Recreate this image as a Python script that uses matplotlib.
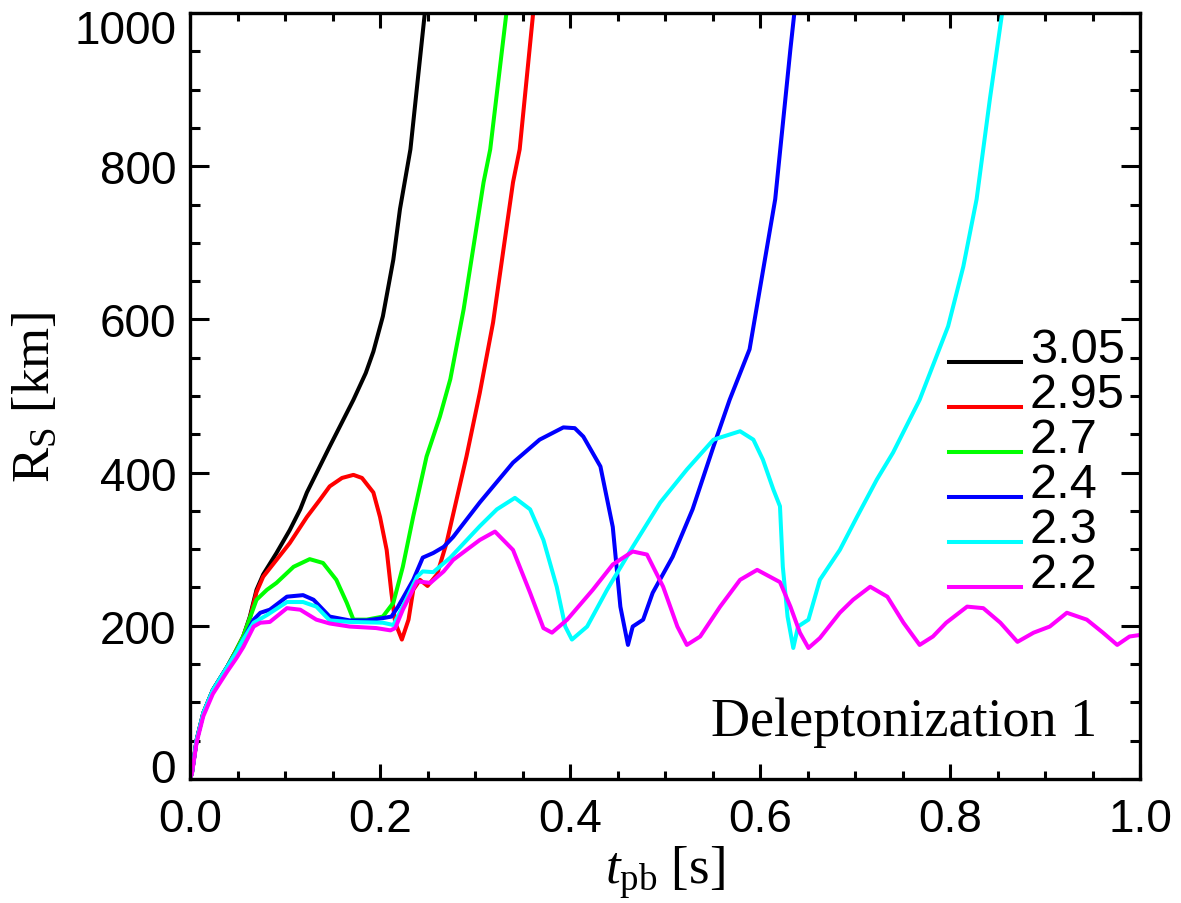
import numpy as np
import matplotlib
matplotlib.use("Agg")
import matplotlib.pyplot as plt
from matplotlib.transforms import ScaledTranslation

plt.rcParams['font.family'] = ['Liberation Sans', 'DejaVu Sans']
plt.rcParams['mathtext.fontset'] = 'custom'
plt.rcParams['mathtext.rm'] = 'Liberation Serif'
plt.rcParams['mathtext.it'] = 'Liberation Serif:italic'

# shock radius vs post-bounce time, one curve per model
t_305 = [0, 0.002, 0.007, 0.014, 0.024, 0.039, 0.049, 0.056, 0.063, 0.07, 0.077, 0.091,
         0.105, 0.116, 0.123, 0.147, 0.172, 0.185, 0.193, 0.203, 0.214, 0.221, 0.232, 0.248]
r_305 = [0, 8, 51, 86, 116, 146, 169, 186, 212, 247, 267, 295,
         325, 352, 374, 434, 495, 530, 558, 604, 678, 744, 822, 1010]

t_295 = [0, 0.002, 0.007, 0.014, 0.024, 0.039, 0.049, 0.056, 0.063, 0.07, 0.077, 0.091,
         0.105, 0.123, 0.137, 0.147, 0.16, 0.172, 0.181, 0.193, 0.2, 0.207, 0.212, 0.216,
         0.223, 0.23, 0.235, 0.242, 0.25, 0.26, 0.27, 0.291, 0.305, 0.319, 0.33, 0.34,
         0.347, 0.362]
r_295 = [0, 8, 51, 86, 116, 146, 169, 186, 210, 244, 264, 286,
         308, 342, 365, 382, 393, 397, 393, 374, 342, 299, 243, 204,
         182, 208, 247, 260, 252, 267, 308, 421, 504, 596, 692, 779,
         822, 1010]

t_27 = [0, 0.002, 0.007, 0.014, 0.024, 0.039, 0.049, 0.056, 0.063, 0.07, 0.081, 0.091,
        0.109, 0.126, 0.14, 0.154, 0.165, 0.172, 0.186, 0.203, 0.214, 0.224, 0.235, 0.249,
        0.263, 0.274, 0.288, 0.298, 0.309, 0.316, 0.334]
r_27 = [0, 8, 51, 86, 116, 146, 169, 186, 210, 234, 247, 256,
        277, 287, 282, 260, 230, 208, 208, 212, 230, 277, 343, 421,
        473, 522, 613, 692, 779, 822, 1010]

t_24 = [0, 0.002, 0.007, 0.014, 0.024, 0.039, 0.049, 0.056, 0.067, 0.074, 0.084, 0.102,
        0.119, 0.13, 0.147, 0.168, 0.186, 0.203, 0.212, 0.219, 0.235, 0.245, 0.256, 0.267,
        0.277, 0.305, 0.34, 0.368, 0.393, 0.405, 0.414, 0.432, 0.445, 0.449, 0.453, 0.461,
        0.466, 0.477, 0.487, 0.508, 0.529, 0.551, 0.568, 0.589, 0.616, 0.632, 0.637]
r_24 = [0, 8, 51, 86, 116, 146, 166, 182, 208, 217, 221, 238,
        240, 234, 212, 207, 207, 210, 212, 225, 260, 289, 295, 303,
        316, 361, 413, 443, 459, 458, 447, 408, 329, 277, 225, 175,
        199, 208, 243, 290, 352, 434, 495, 561, 757, 953, 1010]

t_23 = [0, 0.002, 0.007, 0.014, 0.024, 0.039, 0.049, 0.056, 0.067, 0.081, 0.102, 0.119,
        0.133, 0.147, 0.168, 0.203, 0.214, 0.224, 0.239, 0.245, 0.256, 0.274, 0.305, 0.323,
        0.342, 0.358, 0.372, 0.386, 0.395, 0.402, 0.418, 0.439, 0.466, 0.495, 0.523, 0.551,
        0.579, 0.593, 0.603, 0.614, 0.621, 0.624, 0.629, 0.635, 0.64, 0.651, 0.663, 0.684,
        0.702, 0.723, 0.74, 0.768, 0.798, 0.814, 0.828, 0.842, 0.856]
r_23 = [0, 8, 51, 86, 116, 146, 166, 182, 204, 214, 231, 231,
        225, 207, 205, 204, 201, 225, 264, 271, 270, 289, 330, 352,
        367, 352, 312, 251, 199, 182, 199, 247, 303, 361, 404, 443,
        454, 443, 417, 378, 356, 277, 212, 171, 199, 208, 260, 299,
        342, 391, 426, 495, 591, 669, 757, 888, 1010]

t_22 = [0, 0.002, 0.007, 0.014, 0.024, 0.039, 0.049, 0.056, 0.067, 0.074, 0.084, 0.102,
        0.116, 0.133, 0.147, 0.168, 0.196, 0.211, 0.216, 0.224, 0.239, 0.253, 0.267, 0.277,
        0.305, 0.321, 0.34, 0.358, 0.372, 0.381, 0.397, 0.424, 0.445, 0.466, 0.481, 0.498,
        0.513, 0.523, 0.537, 0.558, 0.579, 0.597, 0.621, 0.632, 0.642, 0.651, 0.663, 0.684,
        0.698, 0.716, 0.734, 0.751, 0.768, 0.782, 0.796, 0.818, 0.835, 0.853, 0.871, 0.888,
        0.905, 0.923, 0.944, 0.961, 0.976, 0.989, 1.0]
r_22 = [0, 7, 48, 82, 111, 140, 158, 172, 199, 204, 205, 223,
        221, 208, 203, 199, 197, 194, 197, 221, 258, 256, 271, 286,
        312, 323, 299, 243, 197, 191, 208, 247, 280, 297, 293, 251,
        199, 175, 186, 225, 260, 273, 257, 225, 191, 171, 184, 217,
        234, 251, 238, 204, 175, 186, 204, 225, 223, 204, 179, 191,
        199, 217, 208, 191, 175, 186, 188]

labels = ['3.05', '2.95', '2.7', '2.4', '2.3', '2.2']
colors = ['black', '#ff0000', '#00ff00', '#0000ff', '#00ffff', '#ff00ff']
curves = [(t_305, r_305), (t_295, r_295), (t_27, r_27),
          (t_24, r_24), (t_23, r_23), (t_22, r_22)]

fig = plt.figure(figsize=(11.81, 9.04), dpi=100)
ax = fig.add_axes([0.1609, 0.1372, 0.8044, 0.8473])

for (t, r), c in zip(curves, colors):
    ax.plot(t, r, color=c, lw=2.9, solid_joinstyle='round')

ax.set_xlim(0, 1)
ax.set_ylim(0, 1000)
ax.set_xticks(np.arange(0, 1.01, 0.2))
ax.set_xticks(np.arange(0, 1.01, 0.05), minor=True)
ax.set_yticks(np.arange(0, 1001, 200))
ax.set_yticks(np.arange(0, 1001, 50), minor=True)
ax.set_xticklabels(['%.1f' % v for v in np.arange(0, 1.01, 0.2)])

for s in ax.spines.values():
    s.set_linewidth(2.4)
ax.tick_params(which='both', direction='in', top=True, right=True, width=2.2, labelsize=33)
ax.tick_params(axis='x', which='major', length=11, pad=13)
ax.tick_params(axis='x', which='minor', length=5.8)
ax.tick_params(axis='y', which='major', length=13.7, pad=10)
ax.tick_params(axis='y', which='minor', length=7.2)

# end labels on the y axis are nudged inwards
yt = ax.yaxis.get_major_ticks()
yt[0].label1.set_transform(yt[0].label1.get_transform() + ScaledTranslation(0, 0.14, fig.dpi_scale_trans))
yt[-1].label1.set_transform(yt[-1].label1.get_transform() + ScaledTranslation(0, -0.13, fig.dpi_scale_trans))

ax.set_xlabel(r'$t_{\mathrm{pb}}$ [s]', fontsize=38, family='Liberation Serif', labelpad=2)
ax.set_ylabel(r'R$_{\mathrm{S}}$ [km]', fontsize=38, family='Liberation Serif', labelpad=10)

ax.text(0.955, 0.0574, 'Deleptonization 1', transform=ax.transAxes, ha='right',
        va='baseline', fontsize=39, family='Liberation Serif')

# legend drawn by hand: line sits on the text baseline
for i, (lab, c) in enumerate(zip(labels, colors)):
    yy = 0.544 - i * 0.0587
    ax.plot([0.799, 0.875], [yy, yy], transform=ax.transAxes, color=c, lw=2.9)
    ax.text(0.884, yy, lab, transform=ax.transAxes, va='baseline', fontsize=35)

fig.savefig('out.png', dpi=100)
